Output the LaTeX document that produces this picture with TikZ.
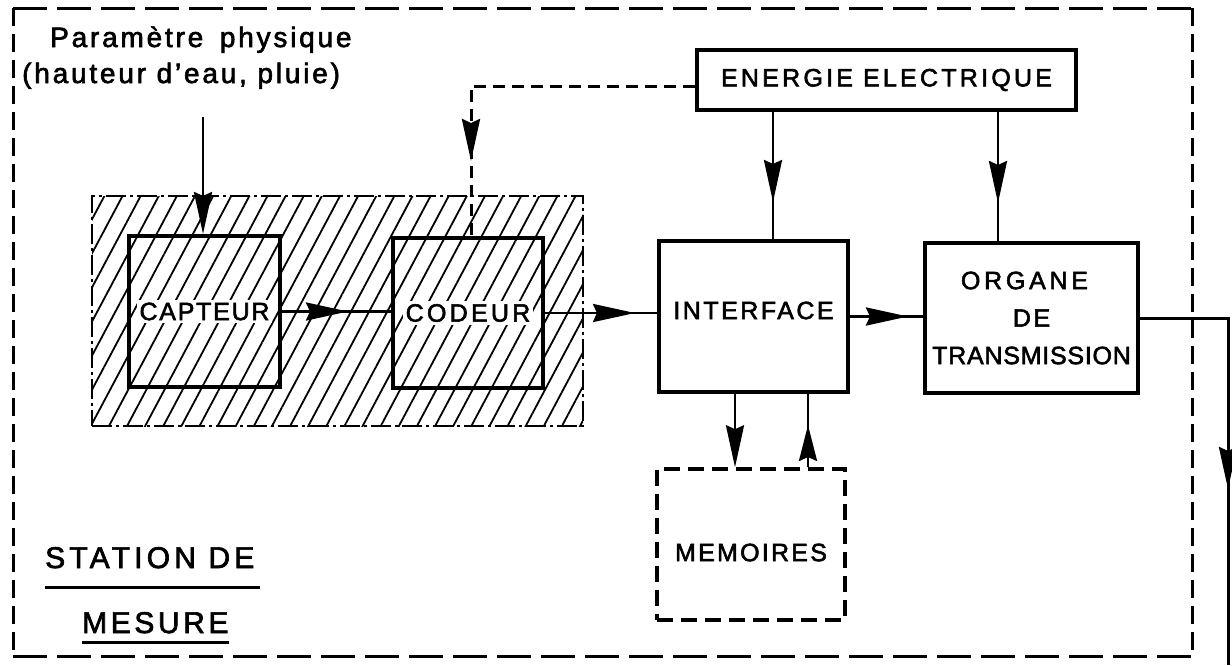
\documentclass[tikz,border=0pt]{standalone}
\usepackage{fontspec}
\setmainfont{Liberation Sans}[FakeBold=2.2]
\usetikzlibrary{arrows.meta,patterns.meta,decorations.markings,calc}
\newcommand\fsz[1]{\fontsize{#1}{#1}\selectfont}
\newcommand\lsp[1]{\addfontfeature{LetterSpace=#1}}
\begin{document}
\begin{tikzpicture}[x=1pt,y=-1pt,
  box/.style={draw, line width=4pt, inner sep=0pt},
  lbl/.style={fill=white, inner sep=3pt, font=\fsz{25}},
  conn/.style={line width=2.8pt},
  bigtip/.style={-{Stealth[length=42pt,width=18pt,inset=4pt]}},
  midarrow/.style={postaction={decorate}, decoration={markings,
     mark=at position #1 with {\arrow{Stealth[length=42pt,width=18pt,inset=4pt]}}}},
  outerh/.style={line width=3pt, dash pattern=on 34pt off 10pt},
  outerv/.style={line width=3pt, dash pattern=on 18pt off 8pt},
  dashbox/.style={draw, line width=3.5pt, dash pattern=on 16pt off 8pt, inner sep=0pt},
  dashconn/.style={line width=3pt, dash pattern=on 12pt off 7pt},
  hatch/.style={pattern={Lines[angle=62,distance=16pt,line width=1.8pt]},
     draw, line width=2.5pt, dash pattern=on 20pt off 4pt on 3pt off 4pt, inner sep=0pt},
  txt/.style={inner sep=0pt, anchor=base west},
  uline/.style={line width=3pt}
 ]
\useasboundingbox (0,0) rectangle (1232,665);

% outer frame (station de mesure)
\draw[outerh] (13,8) -- (1192,8);
\draw[outerh] (13,656) -- (1192,656);
\draw[outerv] (13,8) -- (13,656);
\draw[outerv] (1192,8) -- (1192,656);

% hatched zone
\node[hatch, minimum width=491pt, minimum height=230pt] (zone) at (337.5,311) {};

% boxes
\node[box, minimum width=151pt, minimum height=151pt,
      label={[lbl]center:{\lsp{7}CAPTEUR}}] (capteur) at (204.5,311.5) {};
\node[box, minimum width=150pt, minimum height=150pt,
      label={[lbl]center:{\lsp{13}CODEUR}}] (codeur) at (468,313) {};
\node[box, minimum width=189pt, minimum height=151pt,
      label={[lbl,yshift=6pt]center:{\lsp{10}INTERFACE}}] (interface) at (753.5,316.5) {};
\node[box, minimum width=213pt, minimum height=150pt, align=center,
      font=\fontsize{25}{37.5}\selectfont] (organe) at (1031.5,318)
      {{\lsp{15}ORGANE}\hspace*{14pt}\\{\lsp{10}DE}\\{\lsp{3}TRANSMISSION}};
\node[dashbox, minimum width=188pt, minimum height=151pt,
      label={[lbl,yshift=-8pt]center:{\lsp{9}MEMOIRES}}] (memoires) at (751,544.5) {};
\node[box, line width=3.5pt, minimum width=379pt, minimum height=60pt,
      font=\fsz{25}] (energie) at (886.5,80) {\lsp{13}ENERGIE\hspace{10pt}ELECTRIQUE};

% texts
\node[txt, font=\fsz{28}] (param) at (50,47) {\lsp{10}Paramètre\hspace{6pt} physique};
\node[txt, font=\fsz{28}] (haut) at (22,83) {\lsp{10}(hauteur d'eau, pluie)};
\node[txt, font=\fsz{30}] (station) at (45,568) {\lsp{14}STATION DE};
\node[txt, font=\fsz{30}] (mesure) at (82,633) {\lsp{12}MESURE};
\draw[uline] ([yshift=-19pt]station.base west) -- ([yshift=-19pt,xshift=5pt]station.base east);
\draw[uline] ([yshift=-9pt]mesure.base west) -- ([yshift=-9pt]mesure.base east);

% helper coordinates
\coordinate (pin) at (203,117);
\coordinate (pI) at ([xshift=19.5pt]interface.north);
\coordinate (pO) at ([xshift=-33.5pt]organe.north);
\coordinate (pMd) at ([xshift=-18.5pt]interface.south);
\coordinate (pMu) at ([xshift=54.5pt]interface.south);
\coordinate (pC) at ([xshift=3pt]codeur.north);
\coordinate (out) at (1228,665);

% connectors
\draw[conn, bigtip] (pin) -- (pin |- capteur.north);
\draw[conn, midarrow=-43pt] (capteur.east) -- (capteur.east -| codeur.west);
\draw[conn, midarrow=-22pt] (codeur.east) -- (codeur.east -| interface.west);
\draw[conn, line width=3pt, midarrow=-15pt] (interface.east) -- (interface.east -| organe.west);
\draw[conn, midarrow=-37pt] (energie.south -| pI) -- (pI);
\draw[conn, midarrow=-38pt] (energie.south -| pO) -- (pO);
\draw[conn, bigtip] (pMd) -- (pMd |- memoires.north);
\draw[conn, postaction={decorate}, decoration={markings,
     mark=at position -31pt with {\arrow{Stealth[length=36pt,width=18pt,inset=4pt]}}}]
     (pMu |- memoires.north) -- (pMu);
\draw[dashconn, midarrow=-75pt] ([yshift=-6pt]energie.west) -| (pC);
\draw[conn, line width=3pt, midarrow=259pt] (organe.east) -| (out);
\end{tikzpicture}
\end{document}
